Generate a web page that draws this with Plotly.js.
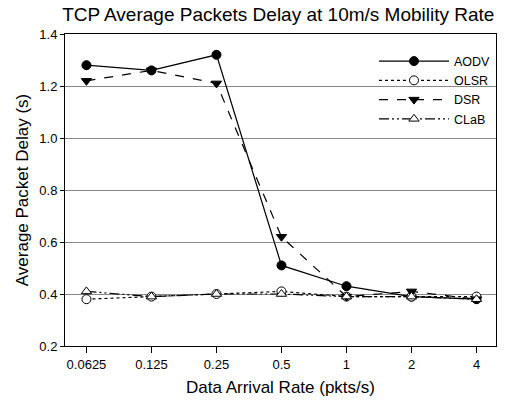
<!DOCTYPE html>
<html><head><meta charset="utf-8">
<script src="https://cdn.plot.ly/plotly-3.0.1.min.js"></script>
<style>body{margin:0;background:#fff}#c{width:506px;height:404px}</style>
</head><body><div id="c"></div>
<script>
const categories = ["0.0625","0.125","0.25","0.5","1","2","4"];
const aodv = [1.28, 1.26, 1.32, 0.51, 0.43, 0.39, 0.38];
const olsr = [0.38, 0.39, 0.40, 0.41, 0.39, 0.39, 0.39];
const dsr  = [1.22, 1.26, 1.21, 0.62, 0.39, 0.41, 0.38];
const clab = [0.41, 0.39, 0.40, 0.40, 0.39, 0.39, 0.38];
const yTicks = [0.2,0.4,0.6,0.8,1.0,1.2,1.4];

const mk = (name, y, dash, sym, fill) => ({
  x: categories, y: y, name: name, type: 'scatter', mode: 'lines+markers',
  line: {color: '#000', width: 1.2, dash: dash},
  marker: {symbol: sym, size: 9, color: fill, line: {color: '#000', width: 1}}
});
const data = [
  mk('AODV', aodv, 'solid', 'circle', '#000'),
  mk('OLSR', olsr, 'dot', 'circle', '#fff'),
  mk('DSR', dsr, 'dash', 'triangle-down', '#000'),
  mk('CLaB', clab, '10px,3px,2px,3px,2px,3px', 'triangle-up', '#fff')
];
const layout = {
  width: 506, height: 404,
  margin: {l: 65, r: 10, t: 34, b: 58},
  paper_bgcolor: '#fff', plot_bgcolor: '#fff',
  font: {family: 'Arial, Liberation Sans, sans-serif', color: '#000', size: 13},
  title: {text: 'TCP Average Packets Delay at 10m/s Mobility Rate', font: {size: 19}, x: 0.55, xanchor: 'center', y: 0.982, yanchor: 'top'},
  xaxis: {
    type: 'category', range: [-0.33, 6.3],
    showline: true, linecolor: '#000', linewidth: 1, mirror: true,
    ticks: 'outside', ticklen: 6, tickcolor: '#000', showgrid: false, zeroline: false,
    title: {text: 'Data Arrival Rate (pkts/s)', font: {size: 17}, standoff: 10}
  },
  yaxis: {
    range: [0.2, 1.4], tickvals: yTicks, ticktext: yTicks.map(v => v.toFixed(1)),
    showline: true, linecolor: '#000', linewidth: 1, mirror: true,
    ticks: 'outside', ticklen: 4, tickcolor: '#000',
    showgrid: true, gridcolor: '#888', gridwidth: 1, zeroline: false,
    title: {text: 'Average Packet Delay (s)', font: {size: 17}, standoff: 6}
  },
  legend: {x: 1.0, y: 0.96, xanchor: 'right', yanchor: 'top', bgcolor: 'rgba(0,0,0,0)', font: {size: 12.5}, itemwidth: 70, tracegroupgap: 0},
  showlegend: true
};
Plotly.newPlot('c', data, layout, {displayModeBar: false, staticPlot: true});
</script>
</body></html>
